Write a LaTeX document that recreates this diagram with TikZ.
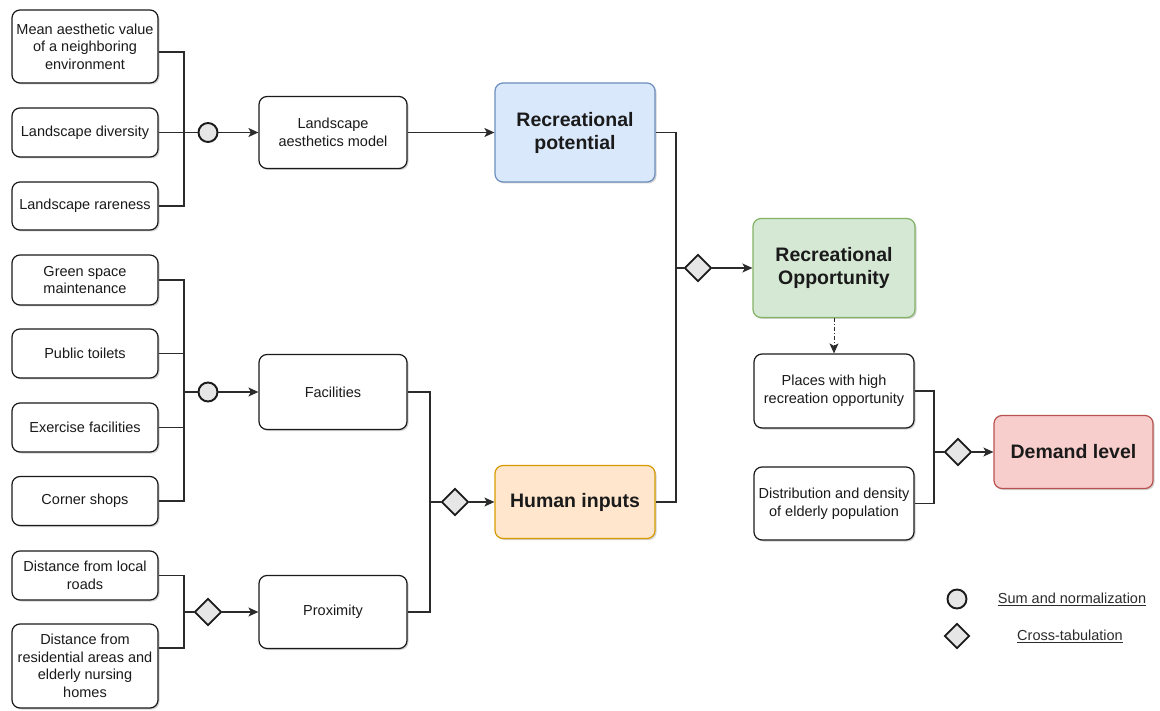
\documentclass[tikz,border=0pt]{standalone}
\usepackage{fontspec}
\setmainfont{Liberation Sans}
\usetikzlibrary{arrows.meta,shadows,shapes.geometric}

\definecolor{blueFill}{HTML}{DAE8FC}\definecolor{blueLine}{HTML}{6C8EBF}
\definecolor{orangeFill}{HTML}{FFE6CC}\definecolor{orangeLine}{HTML}{D79B00}
\definecolor{greenFill}{HTML}{D5E8D4}\definecolor{greenLine}{HTML}{82B366}
\definecolor{redFill}{HTML}{F8CECC}\definecolor{redLine}{HTML}{B85450}
\definecolor{opFill}{HTML}{E6E6E6}
\definecolor{ink}{HTML}{1A1A1A}
\definecolor{wireCol}{HTML}{2B2B2B}

\tikzset{
  size/.style 2 args={minimum width=#1pt, minimum height=#2pt},
  box/.style={draw=ink, line width=1.2pt, rounded corners=8pt, fill=white,
    align=center, inner sep=1pt, text=ink,
    font=\fontsize{14.5}{17.5}\selectfont,
    drop shadow={shadow xshift=1.5pt, shadow yshift=-1.5pt, fill=black, opacity=0.18}},
  keybox/.style={box, font=\bfseries\fontsize{19.5}{23}\selectfont},
  sumop/.style={circle, draw=ink, line width=1.9pt, fill=opFill, minimum size=19pt, inner sep=0pt},
  crossop/.style={diamond, draw=ink, line width=1.9pt, fill=opFill, minimum width=27pt, minimum height=27pt, inner sep=0pt},
  wire/.style={draw=wireCol, line width=1.2pt},
  arr/.style={wire, -{Stealth[length=10pt, width=9pt, inset=2.5pt]}},
  dashdot/.style={dash pattern=on 4pt off 2pt on 1pt off 2pt},
  legendtext/.style={text=wireCol, font=\fontsize{14.5}{17.5}\selectfont}
}

\begin{document}
\begin{tikzpicture}[x=1pt, y=-1pt]
\useasboundingbox (0,0) rectangle (1160,711);

% aesthetics inputs
\node[box, size={146}{73}] (mean) at (85,46.5) {Mean aesthetic value\\of a neighboring\\environment};
\node[box, size={146}{49}] (div) at (85,132.5) {Landscape diversity};
\node[box, size={146}{48}] (rare) at (85,206) {Landscape rareness};
\node[sumop] (sumA) at (208,132.5) {};
\node[box, size={148}{72}] (lam) at (333,132.5) {Landscape\\aesthetics model};
\node[keybox, size={160}{99}, fill=blueFill, draw=blueLine] (recpot) at (575,132.5) {Recreational\\potential};

% facilities inputs
\node[box, size={146}{50}] (green) at (85,280) {Green space\\maintenance};
\node[box, size={146}{49}] (toilets) at (85,353.5) {Public toilets};
\node[box, size={146}{49}] (exer) at (85,427.5) {Exercise facilities};
\node[box, size={146}{49}] (corner) at (85,501) {Corner shops};
\node[sumop] (sumB) at (208,392) {};
\node[box, size={148}{75}] (fac) at (333,392) {Facilities};

% proximity inputs
\node[box, size={146}{49}] (roads) at (85,575.5) {Distance from local\\roads};
\node[box, size={146}{84}] (resid) at (85,666) {Distance from\\residential areas and\\elderly nursing\\homes};
\node[crossop] (xP) at (208,612) {};
\node[box, size={148}{73}] (prox) at (333,612) {Proximity};

% human inputs and opportunity
\node[crossop] (xH) at (455,502) {};
\node[keybox, size={160}{73}, fill=orangeFill, draw=orangeLine] (human) at (575,502) {Human inputs};
\node[crossop] (xO) at (698,268) {};
\node[keybox, size={162}{99}, fill=greenFill, draw=greenLine] (recopp) at (834,268) {Recreational\\Opportunity};

% demand
\node[box, size={160}{74}] (places) at (834,391) {Places with high\\recreation opportunity};
\node[box, size={160}{73}] (distr) at (834,503.5) {Distribution and density\\of elderly population};
\node[crossop] (xD) at (958,452) {};
\node[keybox, size={159}{73}, fill=redFill, draw=redLine] (demand) at (1073.5,452) {Demand level};

% legend
\node[sumop] (legSum) at (957,599) {};
\node[crossop, minimum width=25pt, minimum height=25pt] (legCross) at (957,636) {};
\node[legendtext] (legSumTxt) at (1072,599) {\underline{Sum and normalization}};
\node[legendtext] (legCrossTxt) at (1070,636) {\underline{Cross-tabulation}};

% junction points of the collecting lines
\coordinate (busA) at (184,132.5);
\coordinate (busB) at (184,392);
\coordinate (busP) at (184,612);
\coordinate (busH) at (430,502);
\coordinate (busO) at (676,268);
\coordinate (busD) at (934,452);

% aesthetics branch
\draw[wire] ([yshift=-5.5pt]mean.east) -| (busA) |- (rare.east);
\draw[wire] (div.east) -- (sumA.west);
\draw[arr] (sumA.east) -- (lam.west);
\draw[arr] (lam.east) -- (recpot.west);

% facilities branch
\draw[wire] (green.east) -| (busB) |- (corner.east);
\draw[wire] (toilets.east) -- (toilets.east -| busB);
\draw[wire] (exer.east) -- (exer.east -| busB);
\draw[wire] (busB) -- (sumB.west);
\draw[arr] (sumB.east) -- (fac.west);

% proximity branch
\draw[wire] (roads.east) -| (busP) |- ([yshift=18pt]resid.east);
\draw[wire] (busP) -- (xP.west);
\draw[arr] (xP.east) -- (prox.west);

% human inputs
\draw[wire] (fac.east) -| (busH) |- (prox.east);
\draw[wire] (busH) -- (xH.west);
\draw[arr] (xH.east) -- (human.west);

% recreational opportunity
\draw[wire] (recpot.east) -| (busO) |- (human.east);
\draw[wire] (busO) -- (xO.west);
\draw[arr] (xO.east) -- (recopp.west);
\draw[arr, dashdot, line width=1pt] (recopp.south) -- (places.north);

% demand level
\draw[wire] (places.east) -| (busD) |- (distr.east);
\draw[wire] (busD) -- (xD.west);
\draw[arr] (xD.east) -- (demand.west);
\end{tikzpicture}
\end{document}
